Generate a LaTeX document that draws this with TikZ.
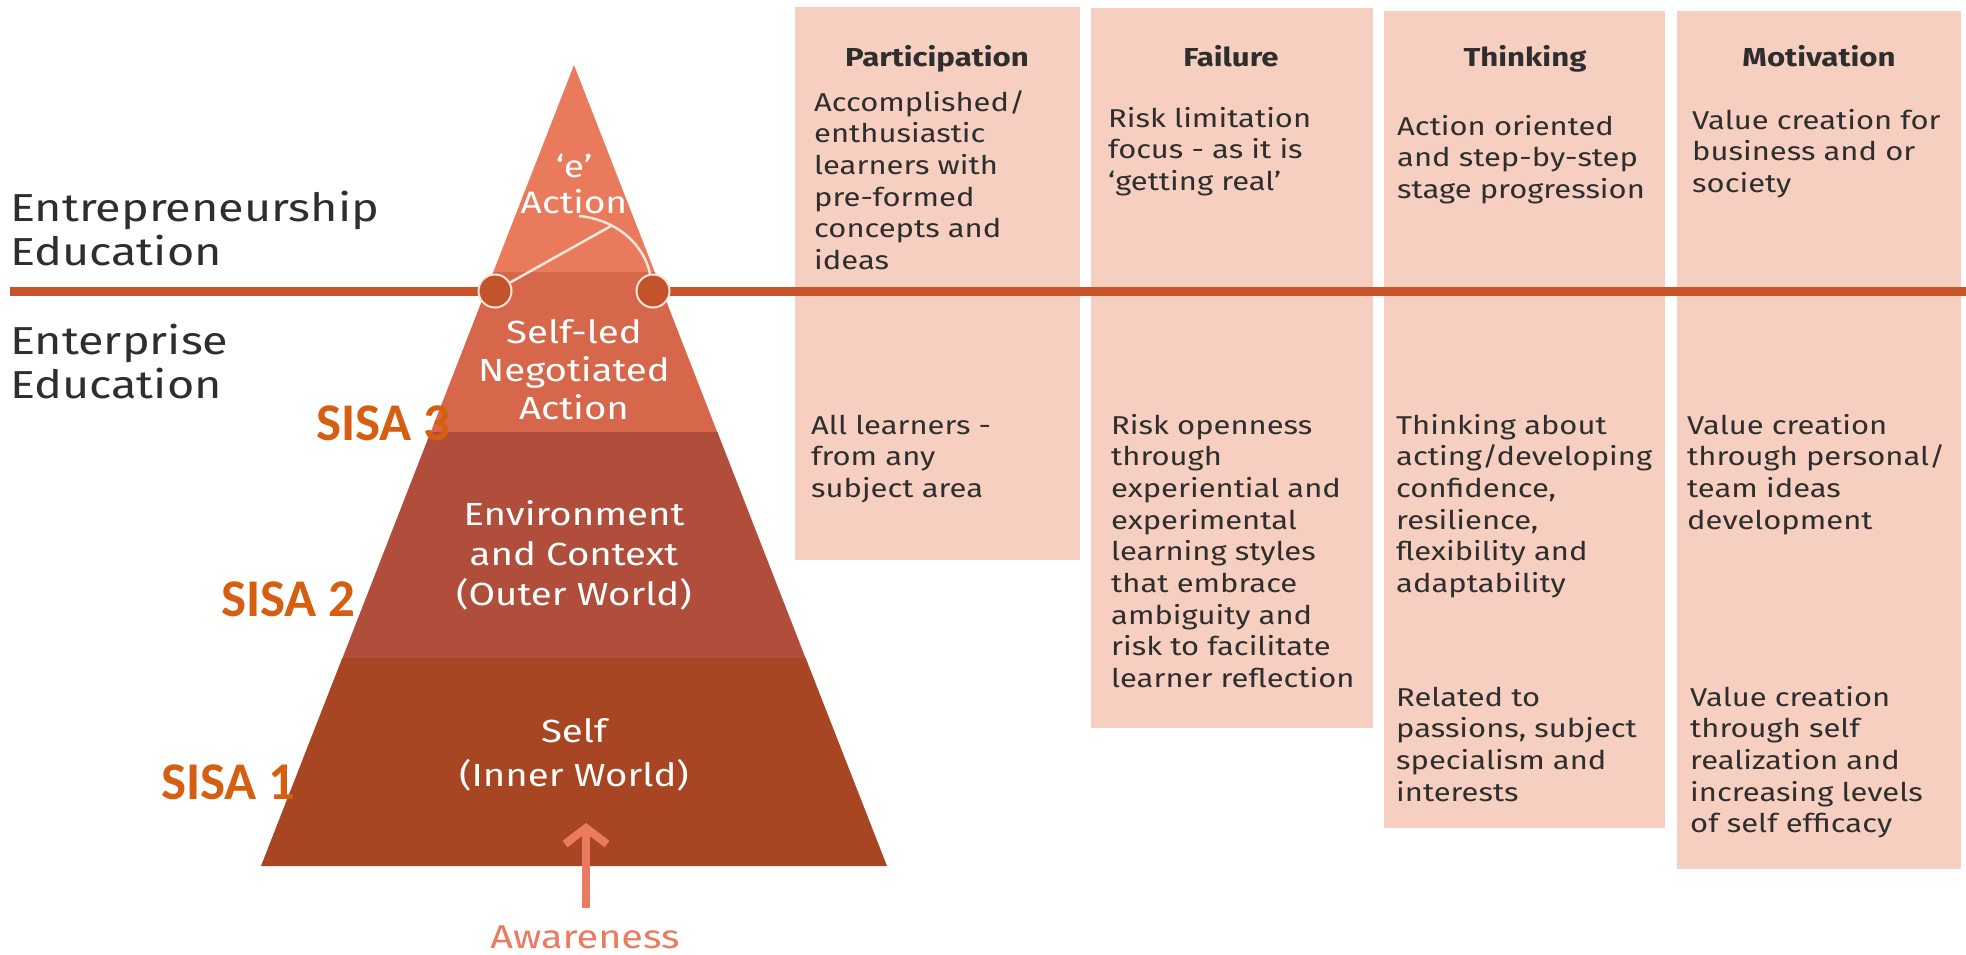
\documentclass[tikz,border=0pt]{standalone}
\usepackage{fontspec}
\setmainfont{Fira Sans}[FakeStretch=1.2]
\newfontfamily\sisafont{Carlito}
\usetikzlibrary{arrows.meta}
\definecolor{boxpink}{HTML}{F6CFC0}
\definecolor{barcol}{HTML}{C8552A}
\definecolor{dotcol}{HTML}{C2532B}
\definecolor{tierA}{HTML}{EA7A5C}
\definecolor{tierB}{HTML}{D6674B}
\definecolor{tierC}{HTML}{B14E3B}
\definecolor{tierD}{HTML}{A84624}
\definecolor{sisacol}{HTML}{D65E10}
\definecolor{awarecol}{HTML}{EB7B60}
\definecolor{txtdark}{HTML}{2E2E2E}
\definecolor{arcwhite}{HTML}{FBE6DC}
\begin{document}
\begin{tikzpicture}[x=1pt,y=-1pt,
  colbox/.style={fill=boxpink,draw=none},
  hdr/.style={font=\bfseries\fontsize{26}{31}\selectfont, text=txtdark, anchor=base, inner sep=0},
  body/.style={font=\fontsize{25.8}{31.7}\selectfont, text=txtdark, align=left, anchor=base west, inner sep=0},
  ptext/.style={font=\fontsize{32}{38}\selectfont, text=white, align=center, inner sep=0},
  side/.style={font=\fontsize{39}{44}\selectfont, text=txtdark, align=left, anchor=west, inner sep=0},
  sisa/.style={font=\sisafont\bfseries\fontsize{53}{60}\selectfont, text=sisacol, anchor=west, inner sep=0},
  dot/.style={circle, fill=dotcol, draw=arcwhite, line width=2pt, minimum size=33pt, inner sep=0},
  arcline/.style={arcwhite, line width=2.5pt},
]
\useasboundingbox[fill=white] (0,0) rectangle (1966,955);
% column boxes
\fill[colbox] (795,7) rectangle (1080,560);
\fill[colbox] (1091,8) rectangle (1373,728);
\fill[colbox] (1384,11) rectangle (1665,828);
\fill[colbox] (1677,11) rectangle (1961,869);
% divider bar
\coordinate (barL) at (10,291);
\coordinate (barR) at (1966,291);
\draw[barcol, line width=9pt] (barL) -- (barR);
% pyramid
\fill[tierA] (574,65) -- (654.9,272.5) -- (493.1,272.5) -- cycle;
\fill[tierB] (493.1,272) -- (654.9,272) -- (717.4,432.5) -- (430.6,432.5) -- cycle;
\fill[tierC] (430.6,432) -- (717.4,432) -- (805.7,658.5) -- (342.3,658.5) -- cycle;
\fill[tierD] (342.3,658) -- (805.7,658) -- (887,866) -- (261,866) -- cycle;
% circles and angle mark
\node[dot] (cL) at (495,291) {};
\node[dot] (cR) at (653,291) {};
\coordinate (arcS) at (579,216);
\coordinate (arcM) at (611,226);
\draw[arcline] (cL) -- (arcM);
\draw[arcline] (arcS) .. controls (620,220) and (645,248) .. (cR.100);
% pyramid labels
\node[ptext, font=\fontsize{31}{36}\selectfont] (eact) at (574,184) {‘e’\\Action};
\node[ptext] (selfled) at (574,370) {Self-led\\Negotiated\\Action};
\node[ptext, font=\fontsize{32}{40}\selectfont] (env) at (574,555) {Environment\\and Context\\(Outer World)};
\node[ptext, font=\fontsize{32}{44}\selectfont] (self) at (574,755) {Self\\(Inner World)};
% awareness arrow
\node[font=\fontsize{33}{38}\selectfont, text=awarecol, inner sep=0] (aware) at (585,937) {Awareness};
\coordinate (awBot) at (586,908);
\coordinate (awTop) at (586,823);
\draw[awarecol, line width=8pt, -{Straight Barb[length=16pt,width=42pt]}] (awBot) -- (awTop);
% SISA labels
\node[sisa] (s3) at (316,423) {SISA 3};
\node[sisa] (s2) at (221,599) {SISA 2};
\node[sisa] (s1) at (161,782) {SISA 1};
% side labels
\node[side] (entre) at (10,229) {Entrepreneurship\\Education};
\node[side] (enter) at (10,362) {Enterprise\\Education};
% headers
\node[hdr] (h1) at (937,67) {Participation};
\node[hdr] (h2) at (1231,67) {Failure};
\node[hdr] (h3) at (1525,67) {Thinking};
\node[hdr] (h4) at (1819,67) {Motivation};
% body texts (anchored at the baseline of the last line)
\node[body] (p1) at (814,269.5) {Accomplished/\\enthusiastic\\learners with\\pre-formed\\concepts and\\ideas};
\node[body] (p2) at (811,497.4) {All learners -\\from any\\subject area};
\node[body] (f1) at (1108,190.4) {Risk limitation\\focus - as it is\\‘getting real’};
\node[body] (f2) at (1111,687.6) {Risk openness\\through\\experiential and\\experimental\\learning styles\\that embrace\\ambiguity and\\risk to facilitate\\learner reflection};
\node[body] (t1) at (1397,198.4) {Action oriented\\and step-by-step\\stage progression};
\node[body] (t2) at (1396,592.5) {Thinking about\\acting/developing\\confidence,\\resilience,\\flexibility and\\adaptability};
\node[body] (t3) at (1396,801.1) {Related to\\passions, subject\\specialism and\\interests};
\node[body] (m1) at (1692,192.4) {Value creation for\\business and or\\society};
\node[body] (m2) at (1687,529.1) {Value creation\\through personal/\\team ideas\\development};
\node[body] (m3) at (1690,832.8) {Value creation\\through self\\realization and\\increasing levels\\of self efficacy};
\end{tikzpicture}
\end{document}
